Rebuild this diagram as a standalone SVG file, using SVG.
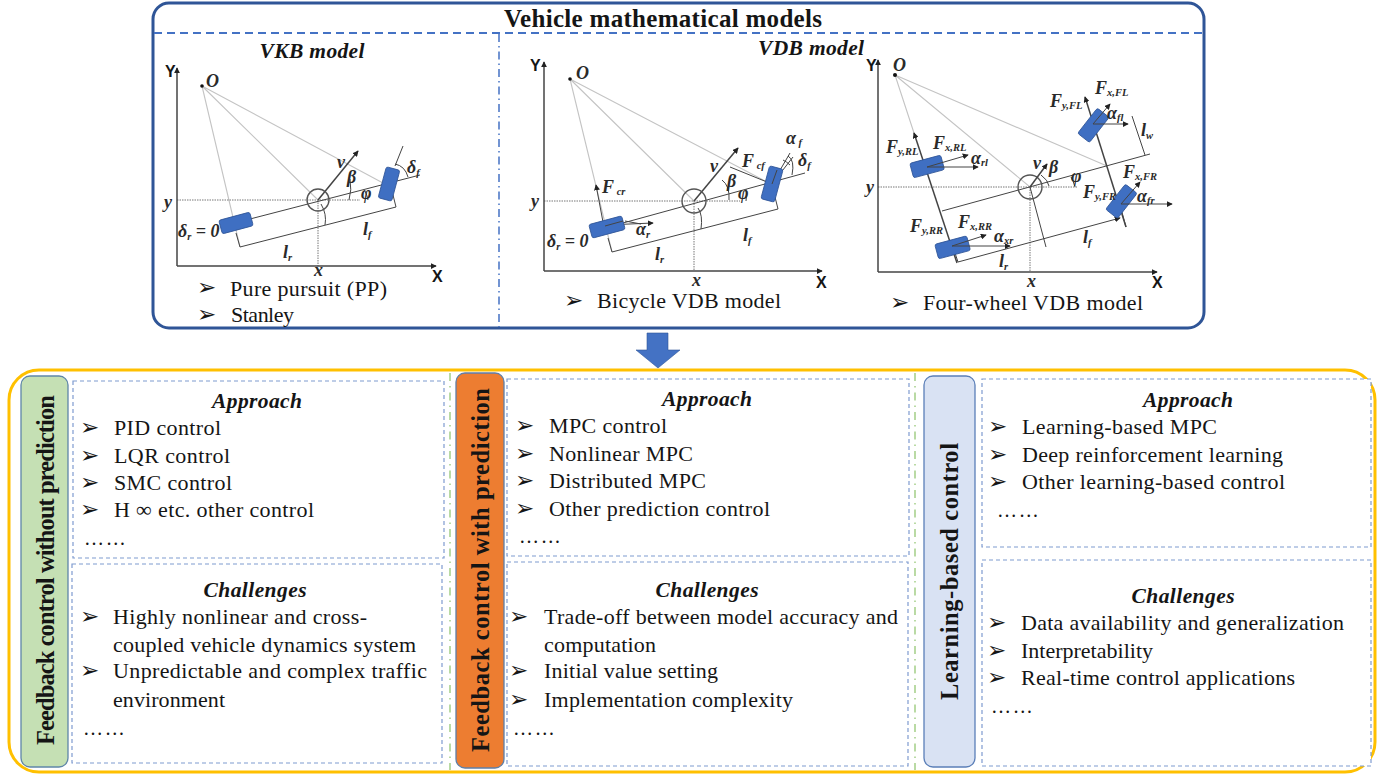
<svg xmlns="http://www.w3.org/2000/svg" width="1382" height="774" viewBox="0 0 1382 774">
<style>
text{font-family:"Liberation Serif","Times New Roman",serif;fill:#151515}
.li{font-size:22px}
.bu{font-family:"DejaVu Sans",sans-serif;font-size:23px}
.dot{font-size:20px;letter-spacing:1.7px}
.hd{font-size:21.5px;font-weight:bold;font-style:italic;text-anchor:middle}
.side{font-size:24.5px;font-weight:bold}
.box{fill:#fff;stroke:#7f9bd0;stroke-width:1.2;stroke-dasharray:4 3}
.ax{font-family:"Liberation Sans",Arial,sans-serif;font-size:16px;font-weight:bold}
.m{font-size:18px;font-style:italic;font-weight:bold;fill:#2a2a2a}
.m tspan.s{font-size:10.5px}
.a{stroke:#444;stroke-width:1.5;fill:none}
.t{stroke:#444;stroke-width:1;fill:none}
.g{stroke:#c4c4c4;stroke-width:1.1;fill:none}
.d{stroke:#777;stroke-width:1;fill:none;stroke-dasharray:1.5 1}
.w{fill:#3f6fc2;stroke:#2f5597;stroke-width:.8}
.c{fill:none;stroke:#555;stroke-width:1.4}
.ar{marker-end:url(#h)}
</style>
<defs>
<marker id="h" viewBox="0 0 8 8" refX="7" refY="4" markerWidth="6" markerHeight="6" markerUnits="userSpaceOnUse" orient="auto"><path d="M0 0L8 4L0 8z" fill="#222"/></marker>
</defs>

<g id="vehicle-models">
<rect x="153" y="3" width="1051" height="325" rx="16" fill="#fff" stroke="#2f5597" stroke-width="3"/>
<path d="M154 33H1203" stroke="#4472c4" stroke-width="1.8" stroke-dasharray="8 5" fill="none"/>
<path d="M499 34V327" stroke="#4472c4" stroke-width="1.5" stroke-dasharray="8 4 1.5 4" fill="none"/>
<text x="504" y="27" font-size="25" font-weight="bold" textLength="318">Vehicle mathematical models</text>
<text x="312" y="58" class="hd" textLength="105">VKB model</text>
<text x="811" y="55" class="hd" textLength="106">VDB model</text>
</g>

<g id="vkb-diagram">
<path class="g" d="M202 86L240 247M202 86L318 200M202 86L383 183"/>
<path class="d" d="M177 200H360M318 200V266"/>
<path class="a ar" d="M177 266V68"/>
<path class="a ar" d="M177 266H436"/>
<path class="t" d="M250 219L420 175M240 247L396 207M396 207L393 195M240 247L236 233M403 146L395 166M321 204Q327 214 325 225"/>
<path class="t" d="M395 164Q405 166 408 177M350 179Q352 190 349 200M368 200Q367 195 365 191"/>
<path class="a ar" d="M318 200L358 151"/>
<circle class="c" cx="318" cy="200" r="11"/>
<circle cx="202" cy="86" r="1.8" fill="#111"/>
<rect class="w" x="220" y="216" width="32" height="14" rx="2" transform="rotate(-15 236 223)"/>
<rect class="w" x="382" y="168" width="14" height="32" rx="2" transform="rotate(15 389 184)"/>
<text class="ax" x="165" y="77">Y</text>
<text class="m" x="206" y="87">O</text>
<text class="m" x="164" y="208">y</text>
<text class="m" x="314" y="276" font-size="14">x</text>
<text class="ax" x="432" y="282">X</text>
<text class="m" x="178" y="237">δ<tspan class="s" dy="3">r</tspan><tspan dy="-3"> = 0</tspan></text>
<text class="m" x="283" y="258">l<tspan class="s" dy="3">r</tspan></text>
<text class="m" x="363" y="235">l<tspan class="s" dy="3">f</tspan></text>
<text class="m" x="337" y="168">v</text>
<text class="m" x="347" y="183">β</text>
<text class="m" x="361" y="199">φ</text>
<text class="m" x="407" y="173">δ<tspan class="s" dy="3">f</tspan></text>
<text class="bu" x="197" y="295">➢</text><text class="li" x="230" y="296" textLength="157">Pure pursuit (PP)</text>
<text class="bu" x="197" y="322">➢</text><text class="li" x="231" y="322" textLength="63">Stanley</text>
</g>

<g id="bicycle-vdb-diagram">
<path class="g" d="M570 79L612 252M570 79L694 201M570 79L767 182"/>
<path class="d" d="M544 201H740M694 201V271"/>
<path class="a ar" d="M544 271V62"/>
<path class="a ar" d="M544 271H822"/>
<path class="t" d="M623 223L805 173M612 252L778 209M778 209L775 197M612 252L608 238M698 208Q703 215 701 229"/>
<path class="t ar" d="M603 222L596 185"/>
<path class="t ar" d="M606 225L653 223"/>
<path class="t" d="M625 221L641 224M772 184L790 153M772 184L793 157M783 160Q787 162 790 165M788 156Q795 160 792 175M722 180Q730 186 729 200M746 189Q747 195 746 201"/>
<path class="t" d="M767 182L730 167"/>
<path class="a ar" d="M694 201L738 148"/>
<circle class="c" cx="694" cy="201" r="12"/>
<circle cx="570" cy="79" r="1.8" fill="#111"/>
<rect class="w" x="590" y="220" width="34" height="14" rx="2" transform="rotate(-15 607 227)"/>
<rect class="w" x="765" y="167" width="14" height="34" rx="2" transform="rotate(15 772 184)"/>
<path class="t" d="M605 226L623 221M772 184L777 170"/>
<text class="ax" x="530" y="71">Y</text>
<text class="m" x="576" y="79">O</text>
<text class="m" x="531" y="207">y</text>
<text class="m" x="692" y="286" font-size="16">x</text>
<text class="ax" x="816" y="288">X</text>
<text class="m" x="547" y="247">δ<tspan class="s" dy="3">r</tspan><tspan dy="-3"> = 0</tspan></text>
<text class="m" x="655" y="260">l<tspan class="s" dy="3">r</tspan></text>
<text class="m" x="743" y="241">l<tspan class="s" dy="3">f</tspan></text>
<text class="m" x="710" y="172">v</text>
<text class="m" x="727" y="187">β</text>
<text class="m" x="738" y="199">φ</text>
<text class="m" x="742" y="167" font-size="15">F<tspan class="s" dy="2"> cf</tspan></text>
<text class="m" x="786" y="144" font-size="15">α<tspan class="s" dy="2"> f</tspan></text>
<text class="m" x="798" y="166" font-size="16">δ<tspan class="s" dy="3">f</tspan></text>
<text class="m" x="602" y="193" font-size="15">F<tspan class="s" dy="2"> cr</tspan></text>
<text class="m" x="636" y="235" font-size="16">α<tspan class="s" dy="3">r</tspan></text>
<text class="bu" x="564" y="308">➢</text><text class="li" x="597" y="308" textLength="184">Bicycle VDB model</text>
</g>

<g id="four-wheel-vdb-diagram">
<path class="g" d="M895 75L914 133M895 75L1030 187M895 75L1107 166"/>
<path class="d" d="M878 187H1077M1030 187V272"/>
<path class="a ar" d="M878 272V60"/>
<path class="a ar" d="M878 272H1157"/>
<path class="t ar" d="M958 262L1120 218"/>
<path class="t" d="M942 211L1150 154M1030 187L1046 247M1132 116L1145 155M958 262L954 250M1126 227L1120 205M1075 187Q1073 180 1071 177M1041 175Q1048 180 1049 186"/>
<path class="a ar" d="M957 263L914 133"/>
<path class="a ar" d="M1126 227L1085 97"/>
<circle class="c" cx="1030" cy="187" r="12"/>
<circle cx="895" cy="75" r="2" fill="#111"/>
<path class="a ar" d="M1030 187L1047 164"/>
<rect class="w" x="911" y="159" width="32" height="15" rx="2" transform="rotate(-15 927 166)"/>
<rect class="w" x="936" y="240" width="33" height="15" rx="2" transform="rotate(-15 952 247)"/>
<rect class="w" x="1086" y="109" width="15" height="32" rx="2" transform="rotate(38 1093 125)"/>
<rect class="w" x="1114" y="185" width="15" height="32" rx="2" transform="rotate(38 1121 201)"/>
<path class="t ar" d="M1093 124H1128"/>
<path class="t ar" d="M927 167H978"/>
<path class="t ar" d="M952 246H1010"/>
<path class="t ar" d="M1121 204H1172"/>
<path class="t ar" d="M1093 124L1110 104"/>
<path class="t ar" d="M927 167L968 155"/>
<path class="t ar" d="M952 246L986 235"/>
<path class="t ar" d="M1121 204L1140 182"/>
<text class="ax" x="866" y="71">Y</text>
<text class="m" x="893" y="71">O</text>
<text class="m" x="866" y="193">y</text>
<text class="m" x="1027" y="287" font-size="16">x</text>
<text class="ax" x="1152" y="288">X</text>
<text class="m" x="1050" y="107" font-size="15">F<tspan class="s" dy="2">y,FL</tspan></text>
<text class="m" x="1095" y="94" font-size="15">F<tspan class="s" dy="2">x,FL</tspan></text>
<text class="m" x="1107" y="119" font-size="15">α<tspan class="s" dy="2">fl</tspan></text>
<text class="m" x="1141" y="136">l<tspan class="s" dy="3">w</tspan></text>
<text class="m" x="886" y="153" font-size="15">F<tspan class="s" dy="2">y,RL</tspan></text>
<text class="m" x="933" y="149" font-size="15">F<tspan class="s" dy="2">x,RL</tspan></text>
<text class="m" x="971" y="164" font-size="15">α<tspan class="s" dy="2">rl</tspan></text>
<text class="m" x="1033" y="169">v</text>
<text class="m" x="1049" y="173">β</text>
<text class="m" x="1071" y="182">φ</text>
<text class="m" x="1123" y="178" font-size="15">F<tspan class="s" dy="2">x,FR</tspan></text>
<text class="m" x="1083" y="198" font-size="15">F<tspan class="s" dy="2">y,FR</tspan></text>
<text class="m" x="1137" y="202" font-size="15">α<tspan class="s" dy="2">fr</tspan></text>
<text class="m" x="910" y="232" font-size="15">F<tspan class="s" dy="2">y,RR</tspan></text>
<text class="m" x="958" y="228" font-size="15">F<tspan class="s" dy="2">x,RR</tspan></text>
<text class="m" x="994" y="242" font-size="15">α<tspan class="s" dy="2">xr</tspan></text>
<text class="m" x="999" y="267">l<tspan class="s" dy="3">r</tspan></text>
<text class="m" x="1083" y="243">l<tspan class="s" dy="3">f</tspan></text>
<text class="bu" x="890" y="310">➢</text><text class="li" x="923" y="310" textLength="220">Four-wheel VDB model</text>
</g>

<g id="connectors">
<path d="M647 333H668V350H680L658 368L636 350H647Z" fill="#4472c4" stroke="#2f5597" stroke-width=".6"/>
</g>

<g id="control-frame">
<rect x="9" y="370" width="1366" height="402" rx="30" fill="#fff" stroke="#ffc000" stroke-width="3"/>
<path d="M450 373V770M915 373V770" stroke="#a9d18e" stroke-width="1.6" stroke-dasharray="8 5 1.5 5" fill="none"/>
</g>

<g id="feedback-without-prediction">
<rect x="21" y="376" width="47" height="391" rx="9" fill="#c5e0b4" stroke="#5f86a8" stroke-width="1.3"/>
<text class="side" transform="translate(53.5 745) rotate(-90)" textLength="350">Feedback control without  prediction</text>
<rect class="box" x="73" y="381" width="371" height="177"/>
<text class="hd" x="257" y="408" textLength="90">Approach</text>
<text class="bu" x="80" y="435">➢</text><text class="li" x="114" y="435" textLength="107">PID control</text>
<text class="bu" x="80" y="463">➢</text><text class="li" x="114" y="463" textLength="116">LQR control</text>
<text class="bu" x="80" y="490">➢</text><text class="li" x="114" y="490" textLength="118">SMC control</text>
<text class="bu" x="80" y="517">➢</text><text class="li" x="114" y="517" textLength="200">H ∞ etc. other control</text>
<text class="dot" x="84" y="545">……</text>
<rect class="box" x="72" y="564" width="370" height="199"/>
<text class="hd" x="255" y="597" textLength="103">Challenges</text>
<text class="bu" x="80" y="624">➢</text><text class="li" x="113" y="624" textLength="254">Highly nonlinear and cross-</text>
<text class="li" x="113" y="652" textLength="303">coupled vehicle dynamics system</text>
<text class="bu" x="80" y="678">➢</text><text class="li" x="113" y="678" textLength="314">Unpredictable and complex traffic</text>
<text class="li" x="113" y="707" textLength="112">environment</text>
<text class="dot" x="83" y="735">……</text>
</g>

<g id="feedback-with-prediction">
<rect x="456" y="373" width="48" height="395" rx="9" fill="#ed7d31" stroke="#5f7fa8" stroke-width="1.3"/>
<text class="side" transform="translate(489 752) rotate(-90)" textLength="364">Feedback control with prediction</text>
<rect class="box" x="507" y="379" width="402" height="177"/>
<text class="hd" x="707" y="406" textLength="90">Approach</text>
<text class="bu" x="515" y="433">➢</text><text class="li" x="549" y="433" textLength="118">MPC control</text>
<text class="bu" x="515" y="461">➢</text><text class="li" x="549" y="461" textLength="144">Nonlinear MPC</text>
<text class="bu" x="515" y="488">➢</text><text class="li" x="549" y="488" textLength="157">Distributed MPC</text>
<text class="bu" x="515" y="516">➢</text><text class="li" x="549" y="516" textLength="221">Other prediction control</text>
<text class="dot" x="519" y="543">……</text>
<rect class="box" x="507" y="562" width="401" height="204"/>
<text class="hd" x="707" y="597" textLength="103">Challenges</text>
<text class="bu" x="509" y="624">➢</text><text class="li" x="544" y="624" textLength="354">Trade-off between model accuracy and</text>
<text class="li" x="544" y="652" textLength="112">computation</text>
<text class="bu" x="509" y="678">➢</text><text class="li" x="544" y="678" textLength="174">Initial value setting</text>
<text class="bu" x="509" y="707">➢</text><text class="li" x="544" y="707" textLength="249">Implementation complexity</text>
<text class="dot" x="513" y="735">……</text>
</g>

<g id="learning-based-control">
<rect x="924" y="376" width="51" height="391" rx="9" fill="#d9e2f3" stroke="#5b7fb8" stroke-width="1.3"/>
<text class="side" transform="translate(958 700) rotate(-90)" textLength="257">Learning-based control</text>
<rect class="box" x="982" y="379" width="389" height="168"/>
<text class="hd" x="1188" y="407" textLength="90">Approach</text>
<text class="bu" x="988" y="434">➢</text><text class="li" x="1022" y="434" textLength="195">Learning-based MPC</text>
<text class="bu" x="988" y="462">➢</text><text class="li" x="1022" y="462" textLength="261">Deep reinforcement learning</text>
<text class="bu" x="988" y="489">➢</text><text class="li" x="1022" y="489" textLength="263">Other learning-based control</text>
<text class="dot" x="997" y="517">……</text>
<rect class="box" x="982" y="560" width="389" height="206"/>
<text class="hd" x="1183" y="603" textLength="103">Challenges</text>
<text class="bu" x="987" y="630">➢</text><text class="li" x="1021" y="630" textLength="323">Data availability and generalization</text>
<text class="bu" x="987" y="658">➢</text><text class="li" x="1021" y="658" textLength="132">Interpretability</text>
<text class="bu" x="987" y="685">➢</text><text class="li" x="1021" y="685" textLength="274">Real-time control applications</text>
<text class="dot" x="991" y="713">……</text>
</g>
</svg>
